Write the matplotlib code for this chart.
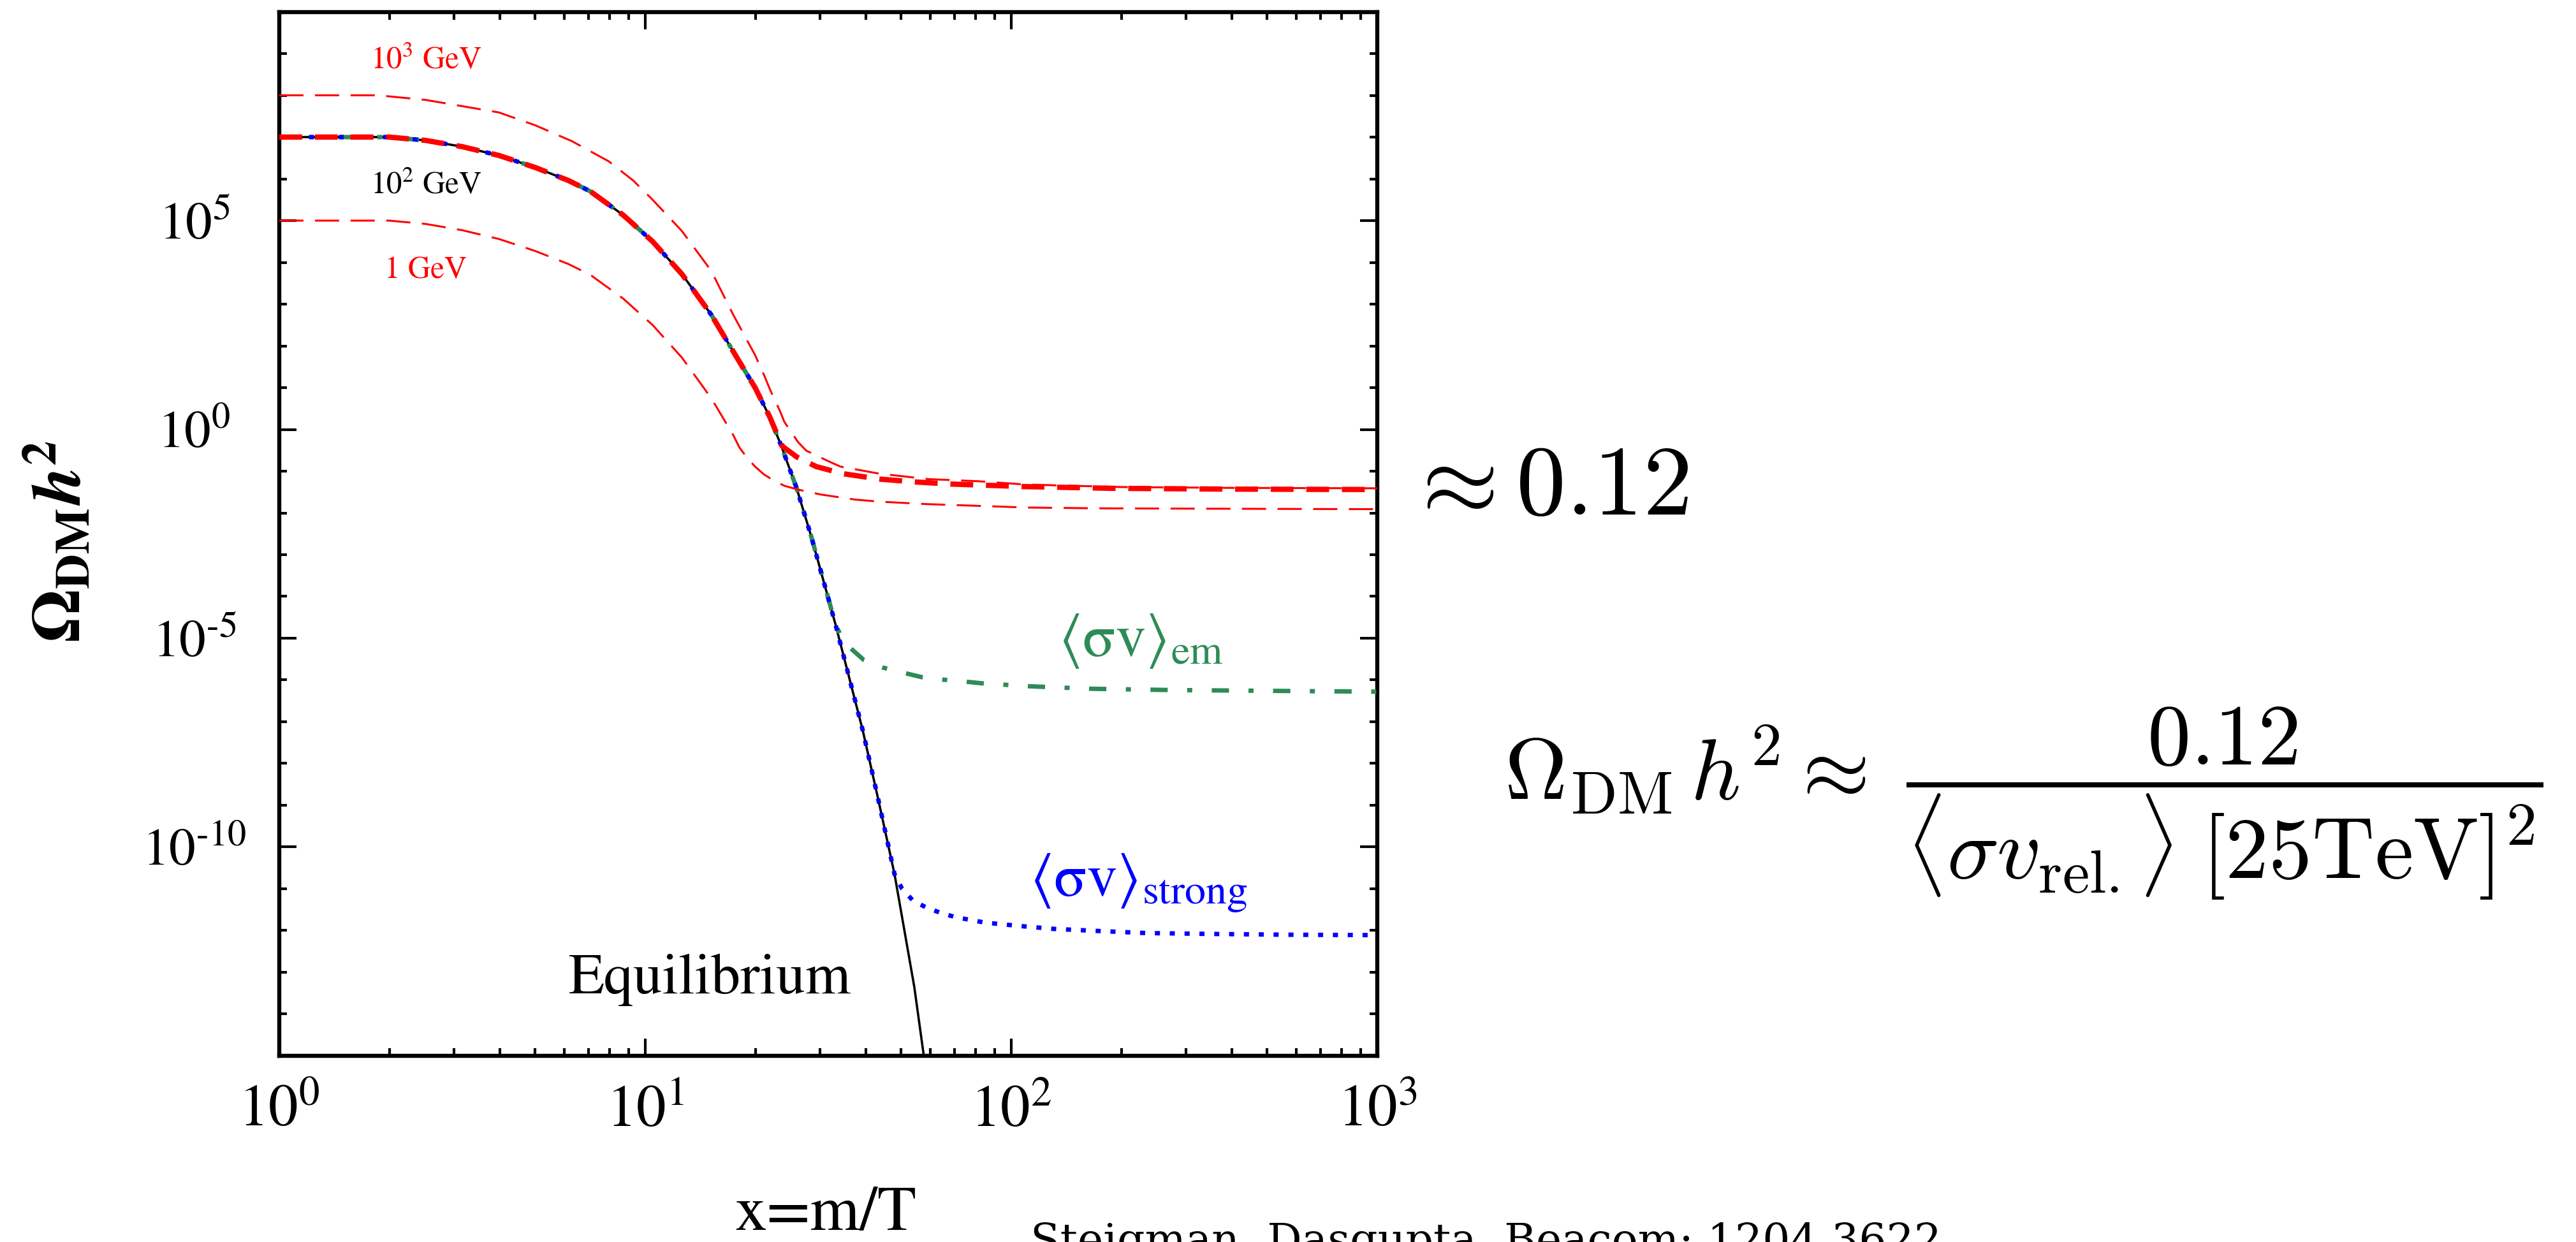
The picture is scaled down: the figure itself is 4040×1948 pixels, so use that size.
import numpy as np
import matplotlib
matplotlib.use("Agg")
import matplotlib.pyplot as plt
from matplotlib.ticker import FixedLocator, FixedFormatter, NullFormatter

plt.rcParams['font.family'] = ['STIXGeneral', 'DejaVu Serif']
plt.rcParams['mathtext.fontset'] = 'stix'

# ---------------- data (log10 values) ----------------
# Equilibrium curve (black solid)
eq_lx = [0.00, 0.15, 0.30, 0.40, 0.50, 0.60, 0.70, 0.79, 0.85, 0.94, 1.02, 1.10,
         1.18, 1.24, 1.30, 1.34, 1.374, 1.414, 1.454, 1.52, 1.594, 1.635, 1.681,
         1.735, 1.761]
eq_ly = [7.00, 7.00, 7.00, 6.92, 6.77, 6.56, 6.27, 5.96, 5.70, 5.13, 4.50, 3.72,
         2.75, 1.87, 1.00, 0.30, -0.45, -1.42, -2.58, -4.68, -7.20, -8.80, -10.65,
         -13.35, -15.00]

# 10^2 GeV, thick red dashed: follows equilibrium up to x ~ 22, then freezes out
m2_lx = [0.00, 0.15, 0.30, 0.40, 0.50, 0.60, 0.70, 0.79, 0.85, 0.94, 1.02, 1.10,
         1.18, 1.24, 1.30, 1.34, 1.374, 1.414, 1.467, 1.54, 1.64, 1.74, 1.84,
         2.04, 2.27, 2.60, 3.00]
m2_ly = [7.00, 7.00, 7.00, 6.92, 6.77, 6.56, 6.27, 5.96, 5.70, 5.13, 4.50, 3.72,
         2.75, 1.87, 1.00, 0.30, -0.40, -0.66, -0.89, -1.06, -1.19, -1.26, -1.31,
         -1.37, -1.41, -1.43, -1.44]

# 10^3 GeV, thin red dashed
m3_lx = [0.00, 0.27, 0.40, 0.50, 0.60, 0.70, 0.80, 0.90, 0.967, 1.02, 1.10, 1.18,
         1.24, 1.30, 1.327, 1.34, 1.367, 1.38, 1.417, 1.44, 1.50, 1.533, 1.64,
         1.773, 1.908, 2.04, 2.30, 2.60, 3.00]
m3_ly = [8.00, 8.00, 7.89, 7.74, 7.59, 7.28, 6.90, 6.42, 5.96, 5.50, 4.75, 3.80,
         2.75, 1.78, 1.25, 0.97, 0.46, 0.18, -0.30, -0.51, -0.76, -0.89, -1.06,
         -1.19, -1.24, -1.32, -1.38, -1.40, -1.41]

# 1 GeV, thin red dashed
m1_lx = [0.00, 0.30, 0.40, 0.50, 0.60, 0.70, 0.79, 0.85, 0.94, 1.02, 1.10, 1.18,
         1.24, 1.257, 1.28, 1.30, 1.323, 1.35, 1.38, 1.417, 1.48, 1.573, 1.64,
         1.773, 1.908, 2.04, 2.24, 2.60, 3.00]
m1_ly = [5.00, 5.00, 4.92, 4.77, 4.56, 4.27, 3.96, 3.70, 3.13, 2.50, 1.72, 0.75,
         -0.13, -0.43, -0.70, -0.89, -1.07, -1.22, -1.35, -1.44, -1.56, -1.68, -1.73,
         -1.79, -1.83, -1.87, -1.89, -1.90, -1.91]

# <sigma v>_em, green dash-dot: freeze-out branch (leaves equilibrium at x ~ 33)
em_lx = [1.535, 1.557, 1.597, 1.648, 1.707, 1.754, 1.811, 1.875, 1.92, 2.048,
         2.215, 2.43, 2.70, 3.00]
em_ly = [-4.95, -5.21, -5.52, -5.70, -5.83, -5.93, -5.99, -6.04, -6.08, -6.15,
         -6.21, -6.24, -6.26, -6.28]

# <sigma v>_strong, blue dotted: freeze-out branch (leaves equilibrium at x ~ 48)
st_lx = [1.701, 1.731, 1.768, 1.808, 1.848, 1.928, 2.022, 2.115, 2.236, 2.368,
         2.535, 2.75, 3.00]
st_ly = [-10.99, -11.28, -11.45, -11.58, -11.68, -11.81, -11.89, -11.96, -12.01,
         -12.06, -12.08, -12.10, -12.11]

xtick_labels = [r'$10^{0}$', r'$10^{1}$', r'$10^{2}$', r'$10^{3}$']
ytick_exps = [-15, -10, -5, 0, 5, 10]
ytick_labels = ['', r'$10^{\text{-}10}$', r'$10^{\text{-}5}$', r'$10^{0}$', r'$10^{5}$', '']


def pw(a):
    return np.power(10.0, np.asarray(a, dtype=float))


def branch(lx_tail, ly_tail, lx_eq, ly_eq):
    """Equilibrium points before the first freeze-out point, then the freeze-out branch."""
    keep = [i for i, v in enumerate(lx_eq) if v < lx_tail[0]]
    lx = [lx_eq[i] for i in keep] + list(lx_tail)
    ly = [ly_eq[i] for i in keep] + list(ly_tail)
    return pw(lx), pw(ly)


# ---------------- figure ----------------
fig = plt.figure(figsize=(20.2, 9.74), dpi=200)
ax = fig.add_axes([0.10842, 0.14990, 0.42624, 0.84060])

red = '#ff0000'
green = '#2e8b57'
blue = '#0000ff'

ax.plot(pw(eq_lx), pw(eq_ly), color='black', lw=1.3, zorder=2)
gx, gy = branch(em_lx, em_ly, eq_lx, eq_ly)
ax.plot(gx, gy, color=green, lw=2.5, dashes=[3.9, 4.4, 1.15, 4.4], zorder=3)
bx, by = branch(st_lx, st_ly, eq_lx, eq_ly)
ax.plot(bx, by, color=blue, lw=2.5, dashes=[1.15, 2.2], zorder=3)
ax.plot(pw(m3_lx), pw(m3_ly), color=red, lw=1.1, dashes=[12.4, 5.9], zorder=4)
ax.plot(pw(m1_lx), pw(m1_ly), color=red, lw=1.1, dashes=[12.4, 5.9], zorder=4)
ax.plot(pw(m2_lx), pw(m2_ly), color=red, lw=3.0, dashes=[4.3, 2.4], zorder=5)

ax.set_xscale('log')
ax.set_yscale('log')
ax.set_xlim(1, 1000)
ax.set_ylim(1e-15, 1e10)

ax.xaxis.set_major_locator(FixedLocator([1, 10, 100, 1000]))
ax.xaxis.set_major_formatter(FixedFormatter(xtick_labels))
xminor = [m * 10.0 ** d for d in range(0, 3) for m in range(2, 10)]
ax.xaxis.set_minor_locator(FixedLocator(xminor))
ax.xaxis.set_minor_formatter(NullFormatter())

ax.yaxis.set_major_locator(FixedLocator([10.0 ** e for e in ytick_exps]))
ax.yaxis.set_major_formatter(FixedFormatter(ytick_labels))
ax.yaxis.set_minor_locator(FixedLocator([10.0 ** e for e in range(-15, 11)]))
ax.yaxis.set_minor_formatter(NullFormatter())

for s in ax.spines.values():
    s.set_linewidth(2.3)
ax.tick_params(which='both', direction='in', top=True, right=True, width=1.5)
ax.tick_params(which='major', length=9.7)
ax.tick_params(which='minor', length=4.4)
ax.tick_params(axis='x', which='major', labelsize=33.5, pad=17)
ax.tick_params(axis='y', which='major', labelsize=30, pad=48)
for lab in ax.get_yticklabels():
    lab.set_horizontalalignment('center')

# in-plot labels
ax.text(10 ** 0.40, 10 ** 8.63, r'$10^{3}$ GeV', color=red, fontsize=17.6,
        ha='center', va='baseline')
ax.text(10 ** 0.40, 10 ** 5.64, r'$10^{2}$ GeV', color='black', fontsize=17.6,
        ha='center', va='baseline')
ax.text(10 ** 0.40, 10 ** 3.63, '1 GeV', color=red, fontsize=17.6,
        ha='center', va='baseline')
ax.text(10 ** 1.177, 10 ** -13.50, 'Equilibrium', color='black', fontsize=33,
        ha='center', va='baseline')
ax.text(10 ** 2.129, 10 ** -5.43, r'$\langle\mathrm{\sigma v}\rangle_{\mathrm{em}}$',
        color=green, fontsize=34, ha='left', va='baseline')
ax.text(10 ** 2.05, 10 ** -11.17, r'$\langle\mathrm{\sigma v}\rangle_{\mathrm{strong}}$',
        color=blue, fontsize=34, ha='left', va='baseline')

# axis labels
fig.text(0.0235, 0.564, r'$\mathbf{\Omega}_{\mathbf{DM}}\mathbfit{h}^{\mathbf{2}}$',
         rotation=90, ha='center', va='center', fontsize=39)
fig.text(0.3205, 0.010, 'x=m/T', ha='center', va='baseline', fontsize=36)

# right-hand annotations
fig.text(0.545, 0.5857, r'$\approx 0.12$', ha='left', va='baseline',
         fontsize=56, math_fontfamily='cm')
fig.text(0.584, 0.353,
         r'$\Omega_{\mathrm{DM}}\,h^2 \approx\; \dfrac{0.12}{\langle\sigma v_{\mathrm{rel.}}\rangle\;[25\mathrm{TeV}]^2}$',
         ha='left', va='center', fontsize=49, math_fontfamily='cm')
fig.text(0.40, 0.0159, 'Steigman, Dasgupta, Beacom: 1204.3622', ha='left', va='top',
         fontsize=24.5, family=['DejaVu Serif'])

fig.savefig('out.png', dpi=200)
